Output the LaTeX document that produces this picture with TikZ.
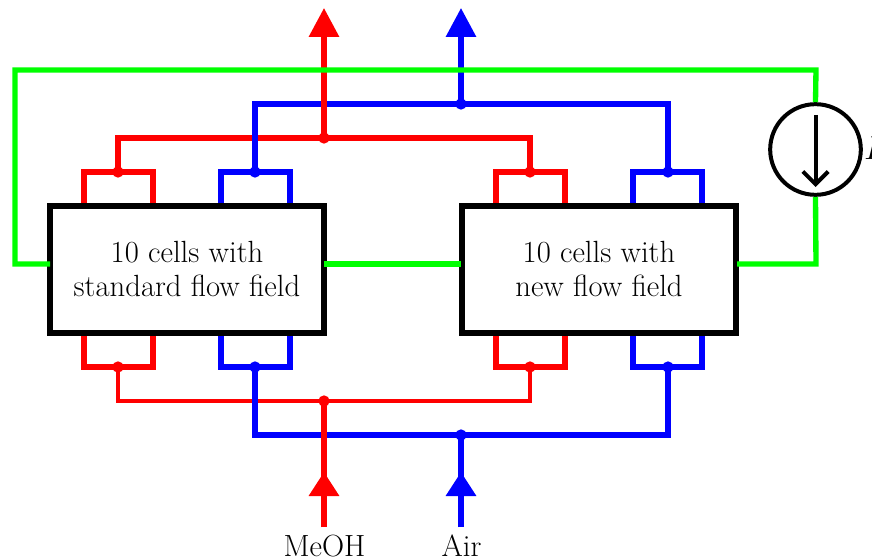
\documentclass[tikz,border=0pt]{standalone}
\usetikzlibrary{arrows.meta}
\definecolor{gr}{RGB}{0,255,0}
\newcommand\liftline[1]{\raisebox{1.5pt}{#1}}
\tikzset{x=0.75pt,y=-0.75pt,
 wire/.style={line width=4pt,line join=miter},
 thinwire/.style={line width=3.6pt,line join=miter},
 flow/.style={wire,-{Triangle[length=21.75pt,width=22pt,sep=0pt]}},
 flowlow/.style={wire,-{Triangle[length=18pt,width=22pt,sep=0pt]}},
 cellbox/.style={draw=black,fill=white,line width=4.5pt,minimum width=205.5pt,minimum height=95pt,inner sep=0pt,align=center,font=\fontsize{23}{25.5}\selectfont},
 dot/.style={circle,inner sep=0pt,minimum size=8.5pt},
 lab/.style={inner sep=0pt,font=\fontsize{23}{25}\selectfont,anchor=base},
 source/.style={circle,draw=black,fill=white,line width=3pt,minimum size=68pt,inner sep=0pt}}
\begin{document}
\begin{tikzpicture}
\useasboundingbox (0,0) rectangle (872,560);
% fixed points
\coordinate (Gtl) at (15,70);\coordinate (Gtr) at (816,70);
\coordinate (rtop) at (324,8);\coordinate (btop) at (461,8);
\coordinate (rbot) at (324,527);\coordinate (bbot) at (461,527);
\coordinate (rmid) at (324,472);\coordinate (bmid) at (461,472);
\node[cellbox] (A) at (187,269.5) {\liftline{10 cells with}\\\liftline{standard flow field}};
\node[cellbox] (B) at (599,269.5) {\liftline{10 cells with}\\\liftline{new flow field}};
\coordinate (Al) at (50,264);\coordinate (Ar) at (324,264);
\coordinate (Bl) at (461,264);\coordinate (Br) at (737,264);
\node[source] (S) at (815.5,149.5) {};
% top red
\node[dot,fill=red] (rt) at (324,138) {};
\node[dot,fill=red] (rtA) at (118,172) {};
\node[dot,fill=red] (rtB) at (530,172) {};
\draw[wire,red] (84,203) -- (84,172) -- (153,172) -- (153,203);
\draw[wire,red] (496,203) -- (496,172) -- (565,172) -- (565,203);
\draw[wire,red] (rtA.center) |- (rt.center) -| (rtB.center);
% top blue
\node[dot,fill=blue] (bt) at (461,104) {};
\node[dot,fill=blue] (btA) at (255,172) {};
\node[dot,fill=blue] (btB) at (668,172) {};
\draw[wire,blue] (221,203) -- (221,172) -- (290,172) -- (290,203);
\draw[wire,blue] (633,203) -- (633,172) -- (702,172) -- (702,203);
\draw[wire,blue] (btA.center) |- (bt.center) -| (btB.center);
\draw[flow,blue] (bt.center) -- (btop);
\draw[flow,red] (rt.center) -- (rtop);
% bottom red bus
\node[dot,fill=red] (rb) at (324,401) {};
\node[dot,fill=red] (rbA) at (118,367) {};
\node[dot,fill=red] (rbB) at (530,367) {};
\draw[wire,red] (84,336) -- (84,367) -- (153,367) -- (153,336);
\draw[wire,red] (496,336) -- (496,367) -- (565,367) -- (565,336);
\draw[thinwire,red] (rbA.center) |- (rb.center) -| (rbB.center);
% bottom blue
\node[dot,fill=blue] (bb) at (461,435) {};
\node[dot,fill=blue] (bbA) at (255,367) {};
\node[dot,fill=blue] (bbB) at (668,367) {};
\draw[wire,blue] (221,336) -- (221,367) -- (290,367) -- (290,336);
\draw[wire,blue] (633,336) -- (633,367) -- (702,367) -- (702,336);
\draw[wire,blue] (bbA.center) |- (bb.center) -| (bbB.center);
\draw[wire,blue] (bbot) -- (bb.center);
\draw[flowlow,blue] (bbot) -- (bmid);
% bottom red feed
\draw[wire,red] (rbot) -- (rb.center);
\draw[flowlow,red] (rbot) -- (rmid);
% green
\draw[wire,gr] (Al) -| (Gtl) -- (Gtr) -- (S.north);
\draw[wire,gr] (S.south) -- (816,264) -- (Br);
\draw[wire,gr] (Ar) -- (Bl);
% source arrow
\coordinate (aT) at (815.5,115);\coordinate (aB) at (815.5,187);
\draw[black,line width=3pt,-{Straight Barb[length=9.5pt,width=19pt]}] (aT) -- (aB);
\node[lab,anchor=base west] (I) at (864,160) {$I$};
\node[lab] (meoh) at (324.5,556) {MeOH};
\node[lab] (air) at (461.5,556) {Air};
\end{tikzpicture}
\end{document}
